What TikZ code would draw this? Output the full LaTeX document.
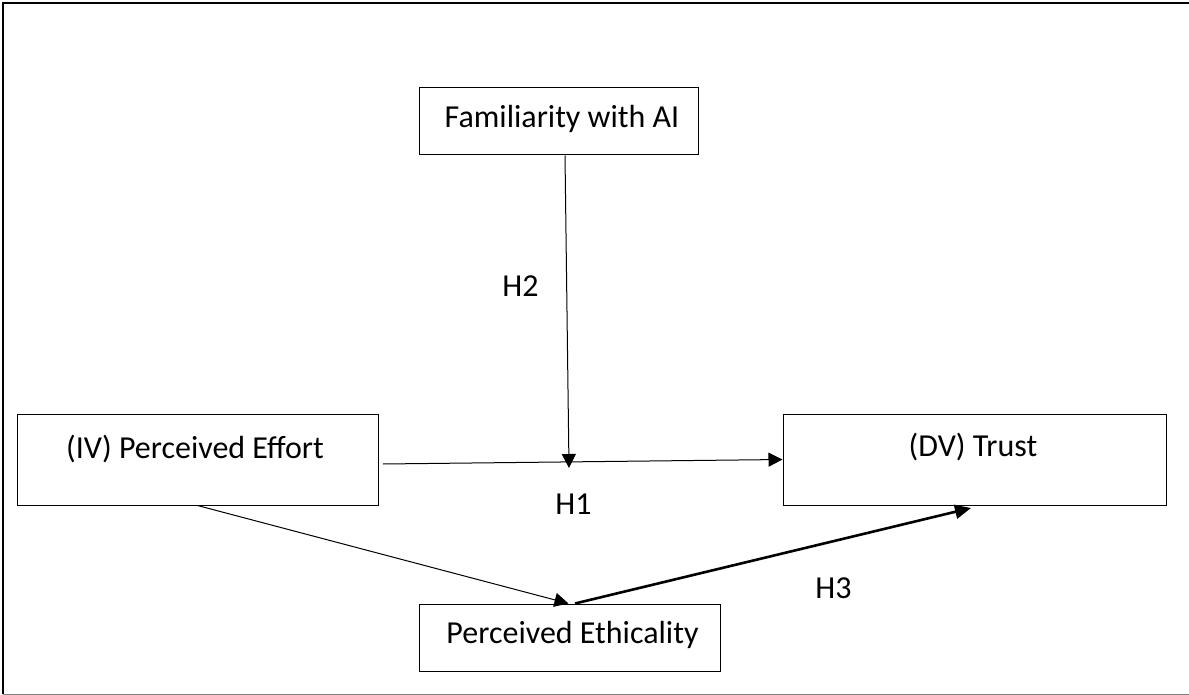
\documentclass[tikz,border=0pt]{standalone}
\usepackage{fontspec}
\setmainfont{Carlito}
\usetikzlibrary{arrows.meta,calc}
\begin{document}
\begin{tikzpicture}[x=1pt,y=-1pt,
  box/.style={draw=black,line width=1pt,inner sep=0pt},
  txt/.style={font=\fontsize{32}{38}\selectfont,inner sep=0pt,anchor=base},
  hlab/.style={font=\fontsize{32}{38}\selectfont,inner sep=0pt,anchor=base},
  arr/.style={line width=1pt,-{Triangle[length=14pt,width=14pt]}},
  thickarr/.style={line width=2.6pt,-{Triangle[length=16pt,width=14pt]}},
  frame/.style={line width=2pt}]
\useasboundingbox (0,0) rectangle (1189,695);
% frame
\draw[frame] (1189,3) -- (3,3) -- (3,694);
\draw[line width=1pt,gray] (3,694) -- (1189,694);
% boxes
\node[box,minimum width=279pt,minimum height=67pt] (fam) at (558.5,121.5) {};
\node[box,minimum width=361pt,minimum height=91pt] (iv) at (197.5,459.5) {};
\node[box,minimum width=383pt,minimum height=91pt] (dv) at (974.5,459.5) {};
\node[box,minimum width=301pt,minimum height=67pt] (eth) at (569.5,637.5) {};
% texts
\node[txt] (famt) at (562,128) {Familiarity with AI};
\node[txt] (ivt) at (195,458) {(IV) Perceived Effort};
\node[txt] (dvt) at (973,456) {(DV) Trust};
\node[txt] (etht) at (572.5,643) {Perceived Ethicality};
% labels
\node[hlab] (h2) at (520.5,296) {H2};
\node[hlab] (h1) at (573.5,514) {H1};
\node[hlab] (h3) at (833.5,598) {H3};
% connectors
\coordinate (mid) at (569,468);
\coordinate (hstart) at (383,464);
\coordinate (h3end) at (971,508);
\draw[arr] ([xshift=6.5pt]fam.south) -- (mid);
\draw[arr] (hstart) -- (dv.west);
\draw[arr] (iv.south) -- ([xshift=-1pt]eth.north);
\draw[thickarr] ([xshift=5.5pt]eth.north) -- (h3end);
\end{tikzpicture}
\end{document}
